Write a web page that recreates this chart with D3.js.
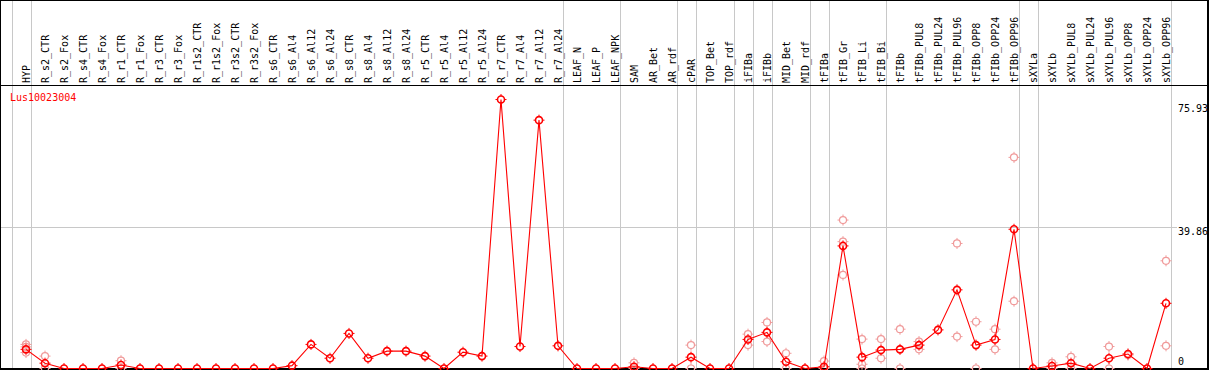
<!doctype html>
<html>
  <head>
    <script src="https://cdnjs.cloudflare.com/ajax/libs/d3/7.8.5/d3.min.js"></script>
    <style>
      body { margin: 0; background: #fff; }
      text { font-family: "DejaVu Sans Mono", monospace; font-size: 10px; }
    </style>
  </head>
  <body>
    <svg id="chart" width="1209" height="370"></svg>
    <script>
        var geneName = "Lus10023004";

        var samples = ["HYP", "R_s2_CTR", "R_s2_Fox", "R_s4_CTR", "R_s4_Fox", "R_r1_CTR", "R_r1_Fox",
            "R_r3_CTR", "R_r3_Fox", "R_r1s2_CTR", "R_r1s2_Fox", "R_r3s2_CTR", "R_r3s2_Fox",
            "R_s6_CTR", "R_s6_Al4", "R_s6_Al12", "R_s6_Al24", "R_s8_CTR", "R_s8_Al4", "R_s8_Al12", "R_s8_Al24",
            "R_r5_CTR", "R_r5_Al4", "R_r5_Al12", "R_r5_Al24", "R_r7_CTR", "R_r7_Al4", "R_r7_Al12", "R_r7_Al24",
            "LEAF_N", "LEAF_P", "LEAF_NPK", "SAM", "AR_Bet", "AR_rdf", "cPAR", "TOP_Bet", "TOP_rdf",
            "iFIBa", "iFIBb", "MID_Bet", "MID_rdf", "tFIBa", "tFIB_Gr", "tFIB_Li", "tFIB_Bi", "tFIBb",
            "tFIBb_PUL8", "tFIBb_PUL24", "tFIBb_PUL96", "tFIBb_OPP8", "tFIBb_OPP24", "tFIBb_OPP96",
            "sXYLa", "sXYLb", "sXYLb_PUL8", "sXYLb_PUL24", "sXYLb_PUL96", "sXYLb_OPP8", "sXYLb_OPP24", "sXYLb_OPP96"];

        // mean expression per sample
        var means = [5.4, 1.5, 0, 0, 0, 1.0, 0, 0, 0, 0, 0, 0, 0,
            0, 0.8, 6.8, 2.9, 9.9, 2.9, 4.9, 4.9,
            3.5, 0, 4.6, 3.5, 75.93, 6.2, 70.1, 6.4,
            0, 0, 0, 0.5, 0, 0, 3.2, 0, 0,
            8.2, 10.2, 1.9, 0, 0.5, 34.6, 3.2, 5.2, 5.4,
            6.6, 10.9, 22.2, 6.6, 8.2, 39.3,
            0, 0.7, 1.5, 0, 2.9, 4.1, 0, 18.4];

        // replicate values (only the ones visible apart from the mean)
        var replicates = [[6.8, 6.1, 4.5], [3.5, 0], [], [], [], [2.2, 0], [], [], [], [], [], [], [],
            [], [], [], [], [], [], [], [],
            [], [], [], [], [], [], [], [],
            [], [], [], [1.6, 0], [], [], [6.6, 0], [], [],
            [9.7, 6.6], [13.0, 7.6], [4.3, 0], [], [2.1, 0], [41.9, 35.8, 26.4], [8.3, 1.2, 0], [8.3, 2.9], [11.1, 0],
            [7.6, 5.4], [], [35.3, 9.0], [13.2, 0], [11.1, 5.4], [59.6, 19.0],
            [], [1.6, 0], [3.3, 0], [], [6.2, 0], [3.8], [], [30.4, 6.4]];

        // last sample of each group (a grey separator follows it)
        var groupEnds = ["HYP", "R_r7_Al24", "LEAF_NPK", "AR_rdf", "cPAR", "TOP_rdf", "iFIBa", "iFIBb",
            "MID_rdf", "tFIBa", "tFIB_Bi", "tFIBb_OPP96", "sXYLa", "sXYLb_OPP96"];

        var yTicks = [0, 39.86, 75.93];

        var W = 1209, headerY = 85, bottomY = 368.5;
        var svg = d3.select("#chart");

        var x = d3.scalePoint().domain(samples).range([26, 1166]);
        var y = d3.scaleLinear().domain([0, 75.93]).range([bottomY, 99.5]);
        var step = x.step();

        var repData = [];
        samples.forEach(function(s, i) {
            replicates[i].forEach(function(v) { repData.push({s: s, v: v}); });
        });

        // horizontal grid line at the middle tick
        svg.append("line")
            .attr("x1", 0).attr("x2", 1177)
            .attr("y1", Math.round(y(39.86)) + 0.5).attr("y2", Math.round(y(39.86)) + 0.5)
            .attr("stroke", "#c8c8c8").attr("shape-rendering", "crispEdges");

        // vertical separators
        var sepX = [x(samples[0]) - step + 4.5].concat(groupEnds.map(d => x(d) + 4.5));
        svg.selectAll("line.sep")
            .data(sepX)
            .enter()
            .append("line")
            .attr("class", "sep")
            .attr("x1", d => Math.round(d) + 0.5).attr("x2", d => Math.round(d) + 0.5)
            .attr("y1", 0).attr("y2", bottomY)
            .attr("stroke", "#c8c8c8").attr("shape-rendering", "crispEdges");

        // frame
        svg.append("rect")
            .attr("x", 0.5).attr("y", 0.5).attr("width", W - 1.5).attr("height", bottomY)
            .attr("fill", "none").attr("stroke", "#000").attr("stroke-width", 1.2)
            .attr("shape-rendering", "crispEdges");
        svg.append("line")
            .attr("x1", 0).attr("x2", W).attr("y1", headerY + 0.5).attr("y2", headerY + 0.5)
            .attr("stroke", "#000").attr("shape-rendering", "crispEdges");

        // sample labels
        svg.selectAll("text.lab")
            .data(samples)
            .enter()
            .append("text")
            .attr("class", "lab")
            .attr("transform", d => "translate(" + (x(d) + 3.5) + "," + (headerY - 2) + ") rotate(-90)")
            .text(d => d);

        svg.append("text")
            .attr("x", 10).attr("y", 101)
            .attr("fill", "red")
            .text(geneName);

        // value labels on the right
        svg.selectAll("text.tick")
            .data(yTicks)
            .enter()
            .append("text")
            .attr("class", "tick")
            .attr("x", 1178)
            .attr("y", (d, i) => i == 0 ? bottomY - 3.5 : y(d) + (i == 2 ? 12.5 : 8))
            .text(d => d);

        function marker(g, color, w) {
            g.append("circle").attr("r", 3.5)
                .attr("fill", "none").attr("stroke", color).attr("stroke-width", w);
            g.append("path")
                .attr("d", "M0,-5.5V-3.5M0,3.5V5.5M-5.5,0H-3.5M3.5,0H5.5")
                .attr("stroke", color).attr("stroke-width", 1);
        }

        // replicates
        svg.selectAll("g.rep")
            .data(repData)
            .enter()
            .append("g")
            .attr("class", "rep")
            .attr("transform", d => "translate(" + x(d.s) + "," + y(d.v) + ")")
            .each(function() { marker(d3.select(this), "#f09a9a", 1.2); });

        // mean line
        var line = d3.line()
            .x(d => x(d))
            .y((d, i) => y(means[i]));

        svg.append("path")
            .datum(samples)
            .attr("d", line)
            .attr("fill", "none")
            .attr("stroke", "red")
            .attr("stroke-width", 1.1);

        svg.selectAll("g.mean")
            .data(samples)
            .enter()
            .append("g")
            .attr("class", "mean")
            .attr("transform", (d, i) => "translate(" + x(d) + "," + y(means[i]) + ")")
            .each(function() { marker(d3.select(this), "red", 1.6); });
    </script>
  </body>
</html>
